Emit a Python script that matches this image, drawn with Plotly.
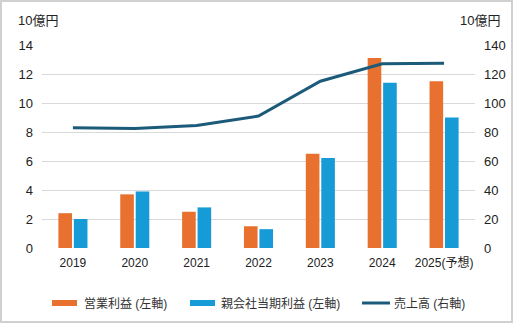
import plotly.graph_objects as go

years = ["2019", "2020", "2021", "2022", "2023", "2024", "2025(予想)"]
operating_profit = [2.4, 3.7, 2.5, 1.5, 6.5, 13.1, 11.5]
net_profit = [2.0, 3.9, 2.8, 1.3, 6.2, 11.4, 9.0]
sales = [83, 82.5, 84.5, 91, 115, 127, 127.5]

names = ["営業利益 (左軸)", "親会社当期利益 (左軸)", "売上高 (右軸)"]
colors = ["#E8712F", "#169BD6", "#1C5A7A"]

W, H = 513, 323
ML, MR, MT, MB = 42, 38, 45, 75
PW, PH = W - ML - MR, H - MT - MB

FONT = "Liberation Sans, Arial, Noto Sans CJK JP, sans-serif"


def px_x(x):
    return (x - ML) / PW


def px_y(y):
    return (H - MB - y) / PH


fig = go.Figure()
fig.add_bar(x=years, y=operating_profit, name=names[0],
            marker=dict(color=colors[0], line=dict(width=0)))
fig.add_bar(x=years, y=net_profit, name=names[1],
            marker=dict(color=colors[1], line=dict(width=0)))
fig.add_scatter(x=years, y=sales, name=names[2], yaxis="y2",
                mode="lines", line=dict(color=colors[2], width=3))

# legend drawn by hand: wide swatches under the plot
legend_items = [(52, 77, 82, 6), (190, 215, 219, 6), (362, 390, 392, 3)]
shapes = []
annotations = []
for (x0, x1, tx, th), name, col in zip(legend_items, names, colors):
    shapes.append(dict(type="rect", xref="paper", yref="paper",
                       x0=px_x(x0), x1=px_x(x1),
                       y0=px_y(303 + th / 2), y1=px_y(303 - th / 2),
                       line=dict(width=0), fillcolor=col))
    annotations.append(dict(text=name, xref="paper", yref="paper",
                            x=px_x(tx), y=px_y(303), xanchor="left", yanchor="middle",
                            showarrow=False, font=dict(size=12, color="#333333")))

annotations += [
    dict(text="10億円", xref="paper", yref="paper", x=px_x(16), y=px_y(20),
         xanchor="left", yanchor="middle", showarrow=False, font=dict(size=13)),
    dict(text="10億円", xref="paper", yref="paper", x=px_x(502), y=px_y(20),
         xanchor="right", yanchor="middle", showarrow=False, font=dict(size=13)),
]
shapes.append(dict(type="rect", xref="paper", yref="paper",
                   x0=px_x(1), x1=px_x(W - 1), y0=px_y(H - 1), y1=px_y(1),
                   line=dict(color="#D0D0D0", width=2), fillcolor="rgba(0,0,0,0)"))

fig.update_layout(
    width=W, height=H,
    margin=dict(l=ML, r=MR, t=MT, b=MB, autoexpand=False),
    paper_bgcolor="white", plot_bgcolor="white",
    font=dict(family=FONT, size=12, color="#222222"),
    barmode="group", bargap=0.5, bargroupgap=0.12,
    showlegend=False,
    xaxis=dict(showgrid=False, showline=False, ticks="", tickfont=dict(size=12),
               zeroline=False, ticklabelstandoff=6),
    yaxis=dict(range=[0, 14], dtick=2, showgrid=True, gridcolor="#D9D9D9",
               gridwidth=1, zeroline=False, showline=False, ticks="",
               tickfont=dict(size=13), ticklabelstandoff=8),
    yaxis2=dict(range=[0, 140], dtick=20, overlaying="y", side="right",
                showgrid=False, zeroline=False, showline=False, ticks="",
                tickfont=dict(size=13), ticklabelstandoff=8),
    annotations=annotations,
    shapes=shapes,
)

fig.write_html("out.html")
